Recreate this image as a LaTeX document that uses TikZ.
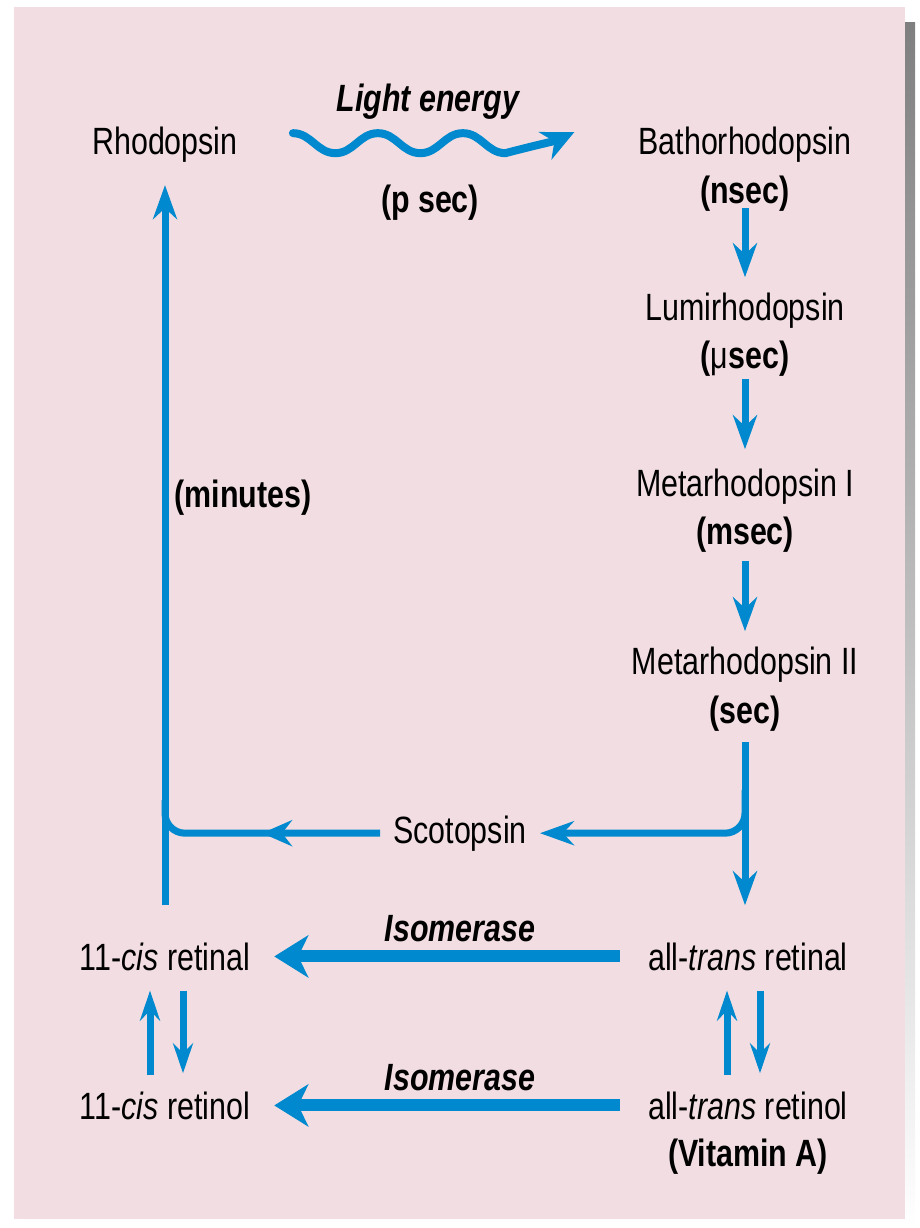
\documentclass[tikz,border=0pt]{standalone}
\usepackage{fontspec}
\setmainfont[FakeStretch=0.8]{Liberation Sans}
\usetikzlibrary{arrows.meta,decorations.markings,calc}
\definecolor{panel}{HTML}{F2DEE2}
\definecolor{shade}{HTML}{D9C9CD}
\definecolor{flowblue}{HTML}{0089CF}
\begin{document}
\begin{tikzpicture}[x=1pt,y=-1pt,
  lbl/.style={font=\fontsize{38}{40}\selectfont, inner sep=0pt, anchor=base, text=black},
  tlbl/.style={lbl, font=\fontsize{38}{40}\selectfont\bfseries},
  ilbl/.style={lbl, font=\fontsize{38}{40}\selectfont\bfseries\itshape},
  flowline/.style={color=flowblue, line width=7pt},
  thinflow/.style={flowline, -{Stealth[length=34pt,width=24pt,inset=11pt]}},
  pairflow/.style={flowline, -{Stealth[length=30pt,width=20pt,inset=10pt]}},
  thickflow/.style={color=flowblue, line width=12pt, -{Stealth[length=34pt,width=42pt,inset=10pt]}},
  waveflow/.style={color=flowblue, line width=8pt, line cap=round, -{Stealth[length=32pt,width=30pt,inset=10pt]}},
]
\useasboundingbox (0,0) rectangle (920,1228);
\fill[shade] (24,23) rectangle (915,1228);
\fill[panel] (14,7) rectangle (905,1219);

% nodes
\node[lbl]  (rhod)    at (165,154)  {Rhodopsin};
\node[lbl]  (batho)   at (745,154)  {Bathorhodopsin};
\node[ilbl] (light)   at (428,112)  {Light energy};
\node[tlbl] (psec)    at (430,212)  {(p sec)};
\node[tlbl] (nsec)    at (745,203)  {(nsec)};
\node[lbl]  (lumi)    at (745,320)  {Lumirhodopsin};
\node[tlbl] (usec)    at (745,368)  {({\mdseries μ}sec)};
\node[lbl]  (meta1)   at (745,496)  {Metarhodopsin I};
\node[tlbl] (msec)    at (745,544)  {(msec)};
\node[lbl]  (meta2)   at (745,674)  {Metarhodopsin II};
\node[tlbl] (sec)     at (745,723)  {(sec)};
\node[lbl]  (scot)    at (460,843)  {Scotopsin};
\node[tlbl] (minutes) at (243,507)  {(minutes)};
\node[lbl]  (cisal)   at (165,970)  {11-\textit{cis} retinal};
\node[lbl]  (transal) at (748,970)  {all-\textit{trans} retinal};
\node[ilbl] (iso1)    at (460,941)  {Isomerase};
\node[lbl]  (cisol)   at (165,1119) {11-\textit{cis} retinol};
\node[lbl]  (transol) at (748,1119) {all-\textit{trans} retinol};
\node[ilbl] (iso2)    at (460,1090) {Isomerase};
\node[tlbl] (vita)    at (748,1166) {(Vitamin A)};

% light wave
\coordinate (ws) at ([xshift=55pt,yshift=11pt]rhod.east);
\coordinate (we) at ([xshift=-64pt,yshift=12pt]batho.west);
\draw[waveflow] (ws)
  to[out=0,in=180] ++(42.5,20)
  to[out=0,in=180] ++(42.5,-20)
  to[out=0,in=180] ++(42.5,20)
  to[out=0,in=180] ++(42.5,-20)
  to[out=0,in=180] ++(42.5,20)
  to[out=15,in=205,looseness=0.7] (we);

% right column
\draw[thinflow] ([yshift=3pt]nsec.south) -- ([yshift=15pt]lumi.north);
\draw[thinflow] ([yshift=-3pt]usec.south) -- ([yshift=19pt]meta1.north);
\draw[thinflow] ([yshift=-9pt]sec.north |- msec.south) -- ([yshift=15pt]meta2.north);
\draw[thinflow] ([yshift=-11pt]sec.south) -- ([yshift=37pt]transal.north -| sec.south);

% scotopsin branch
\coordinate (rj) at (745,790);
\coordinate (lj) at (165,800);
\draw[thinflow, rounded corners=20pt, shorten >=13pt] (rj) |- (scot.east);
\draw[flowline, rounded corners=20pt,
  postaction={decorate, decoration={markings,
    mark=at position 118pt with {\arrow{Stealth[length=30pt,width=26pt,inset=10pt]}}}}]
  ([xshift=-13pt]scot.west) -| (lj);

% left return
\draw[thinflow] ([yshift=37pt]cisal.north) -- ([yshift=-23pt]rhod.south);

% isomerase
\draw[thickflow, shorten <=28pt, shorten >=24pt] (transal.west) -- (cisal.east);
\draw[thickflow, shorten <=28pt, shorten >=24pt] (transol.west) -- (cisol.east);

% reversible pairs
\draw[pairflow] ([xshift=-15pt,yshift=16pt]cisol.north) -- ([xshift=-15pt,yshift=-20pt]cisal.south);
\draw[pairflow] ([xshift=18pt,yshift=-20pt]cisal.south) -- ([xshift=18pt,yshift=18pt]cisol.north);
\draw[pairflow] ([xshift=-21pt,yshift=16pt]transol.north) -- ([xshift=-21pt,yshift=-20pt]transal.south);
\draw[pairflow] ([xshift=12pt,yshift=-20pt]transal.south) -- ([xshift=12pt,yshift=18pt]transol.north);
\end{tikzpicture}
\end{document}
